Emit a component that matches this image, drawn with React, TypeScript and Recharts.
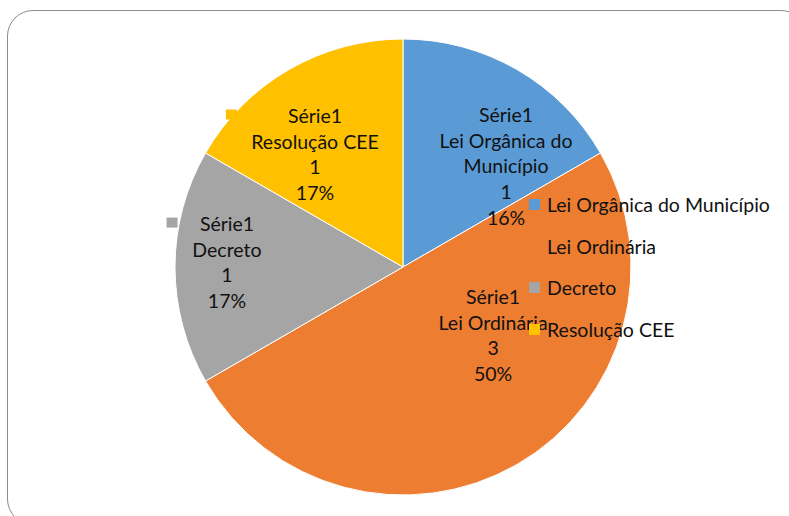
import React from 'react';
import { PieChart, Pie, Cell, Legend } from 'recharts';

const CATEGORIES = ['Lei Orgânica do Município', 'Lei Ordinária', 'Decreto', 'Resolução CEE'];
const VALUES = [1, 3, 1, 1];
const PERCENT_LABELS = ['16%', '50%', '17%', '17%'];
const SERIES_NAME = 'Série1';
const COLORS = ['#5B9BD5', '#ED7D31', '#A5A5A5', '#FFC000'];

const data = CATEGORIES.map((name, i) => ({ name, value: VALUES[i] }));

// label block centre, as a fraction of the outer radius (Excel "best fit")
const LABEL_OFFSET: [number, number][] = [
  [0.452, -0.443],
  [0.395, 0.298],
  [-0.772, -0.022],
  [-0.386, -0.496],
];

const FONT = 'Lato, "Open Sans", sans-serif';
const FONT_SIZE = 19.5;
const LINE_H = 25.6;
const KEY = 11;

const wrap = (s: string, max = 16) => {
  const words = s.split(' ');
  const lines: string[] = [];
  let cur = '';
  words.forEach((w) => {
    const next = cur ? cur + ' ' + w : w;
    if (next.length > max && cur) {
      lines.push(cur);
      cur = w;
    } else cur = next;
  });
  if (cur) lines.push(cur);
  return lines;
};

const renderLabel = (props: any) => {
  const { cx, cy, outerRadius, index } = props;
  const [fx, fy] = LABEL_OFFSET[index];
  const x = cx + fx * outerRadius;
  const yc = cy + fy * outerRadius;
  const lines = [SERIES_NAME, ...wrap(CATEGORIES[index]), String(VALUES[index]), PERCENT_LABELS[index]];
  const top = yc - ((lines.length - 1) * LINE_H) / 2;
  const widest = Math.max(...lines.map((l) => l.length));
  const keyX = x - widest * FONT_SIZE * 0.245 - 27;
  return (
    <g>
      <rect x={keyX} y={top - 6} width={KEY} height={KEY - 1} fill={COLORS[index]} />
      <text x={x} y={top} textAnchor="middle" fontFamily={FONT} fontSize={FONT_SIZE} fill="#111">
        {lines.map((l, i) => (
          <tspan key={i} x={x} y={top + i * LINE_H} dominantBaseline="central">
            {l}
          </tspan>
        ))}
      </text>
    </g>
  );
};

const renderLegend = () => (
  <div style={{ fontFamily: FONT, fontSize: FONT_SIZE, color: '#111' }}>
    {CATEGORIES.map((name, i) => (
      <div key={name} style={{ display: 'flex', alignItems: 'center', height: 41.5, whiteSpace: 'nowrap' }}>
        <div style={{ width: KEY, height: KEY, minWidth: KEY, background: COLORS[i], marginRight: 7 }} />
        <span>{name}</span>
      </div>
    ))}
  </div>
);

export default function App() {
  return (
    <div style={{ position: 'absolute', left: 0, top: 0, width: 789, height: 516, overflow: 'hidden', background: '#fff' }}>
      <div
        style={{
          position: 'absolute',
          left: 7,
          top: 10,
          width: 800,
          height: 515,
          border: '1.5px solid #8c8c8c',
          borderRadius: 26,
          boxSizing: 'border-box',
        }}
      />
      <div style={{ position: 'absolute', left: 0, top: 0 }}>
        <PieChart width={789} height={516} margin={{ top: 0, right: 0, bottom: 0, left: 0 }}>
          <Pie
            data={data}
            dataKey="value"
            nameKey="name"
            cx={403}
            cy={267}
            outerRadius={228}
            startAngle={90}
            endAngle={-270}
            stroke="#fff"
            strokeWidth={1}
            label={renderLabel}
            labelLine={false}
            isAnimationActive={false}
          >
            {data.map((_, i) => (
              <Cell key={i} fill={COLORS[i]} />
            ))}
          </Pie>
          <Legend
            content={renderLegend}
            layout="vertical"
            wrapperStyle={{ position: 'absolute', left: 529, top: 184, width: 260 }}
          />
        </PieChart>
      </div>
    </div>
  );
}
